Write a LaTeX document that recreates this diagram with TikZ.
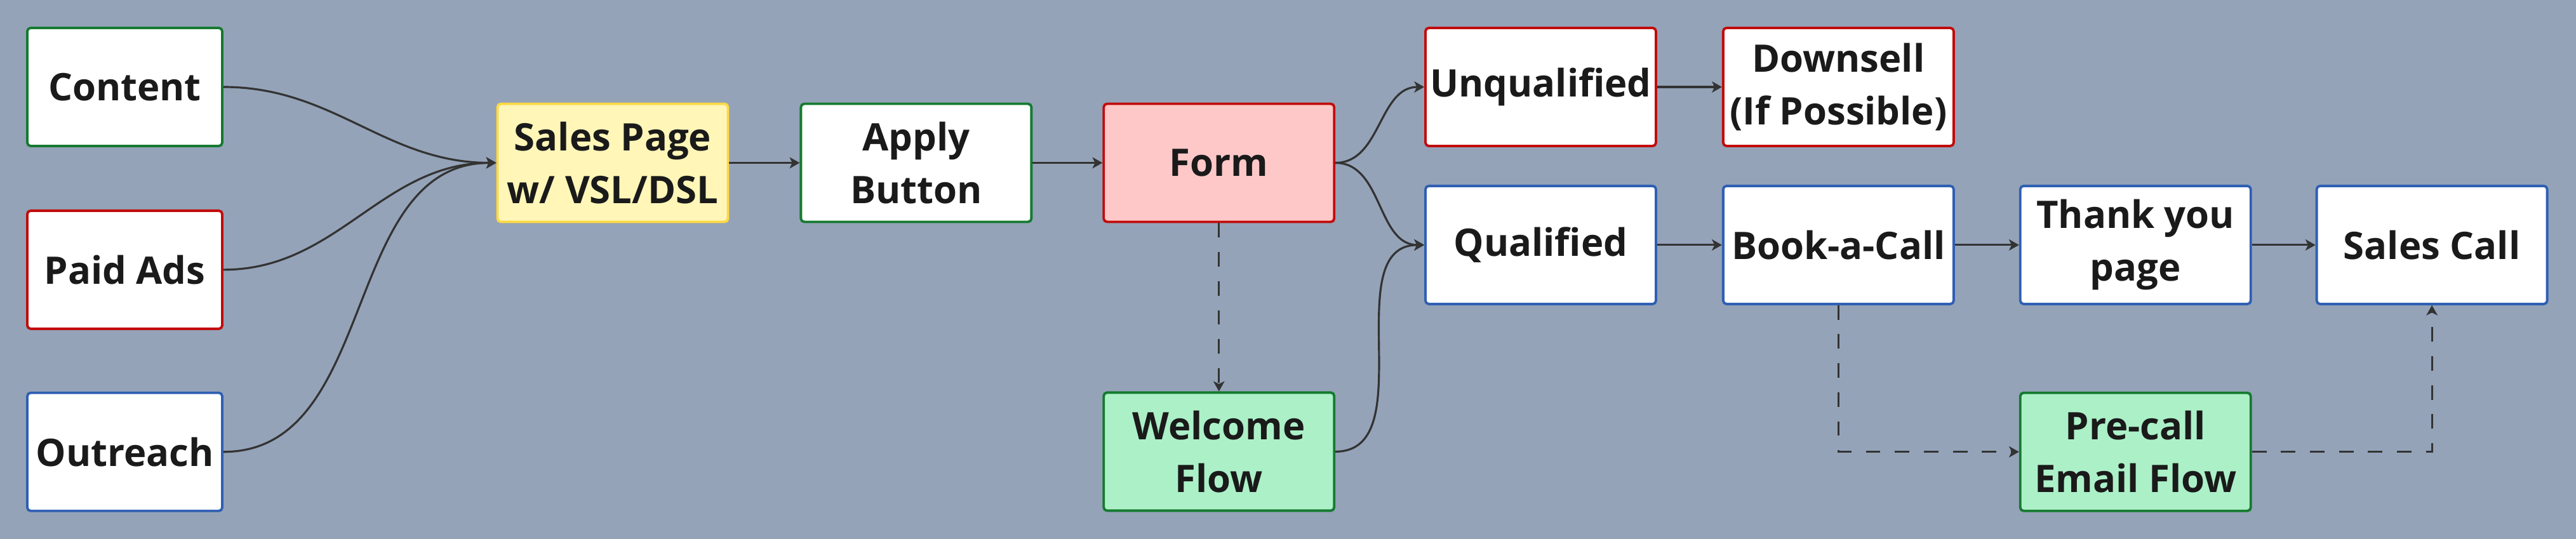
\documentclass[tikz,border=0pt]{standalone}
\usepackage{fontspec}
\setmainfont{Open Sans}
\usepackage{xcolor}
\usetikzlibrary{arrows.meta, positioning}

\definecolor{bgslate}{HTML}{94A3B8}
\definecolor{linegray}{HTML}{333333}
\definecolor{txtdark}{HTML}{1A1A1A}
\definecolor{edgegreen}{HTML}{157A2F}
\definecolor{edgered}{HTML}{C20B0B}
\definecolor{edgeblue}{HTML}{2F5FB3}
\definecolor{edgeyellow}{HTML}{FFD943}
\definecolor{fillyellow}{HTML}{FFF6B8}
\definecolor{fillpink}{HTML}{FFC8C8}
\definecolor{fillgreen}{HTML}{ACF0C8}

\begin{document}
\begin{tikzpicture}[
    font=\fontsize{17}{23.6}\selectfont\bfseries,
    stage/.style={
        draw,
        rounded corners=1.5pt,
        line width=1.1pt,
        fill=white,
        text=txtdark,
        align=center,
        inner sep=2pt,
        minimum width=3.63cm,
        minimum height=1.86cm
    },
    greenbox/.style={stage, draw=edgegreen},
    redbox/.style={stage, draw=edgered},
    bluebox/.style={stage, draw=edgeblue},
    source/.style={minimum width=3.07cm},
    flow/.style={
        draw=linegray,
        line width=0.9pt,
        -{Stealth[length=4.5pt, width=5pt, inset=1.2pt]}
    },
    dashflow/.style={
        flow,
        dash pattern=on 6.5pt off 6.5pt
    }
]

% Background
\fill[bgslate] (0,0) rectangle (40.57,-8.49);

% Traffic sources
\node[greenbox, source] (content) at (1.965,-1.37) {Content};
\node[redbox, source, below=0.98cm of content] (paidads) {Paid Ads};
\node[bluebox, source, below=0.97cm of paidads] (outreach) {Outreach};

% Funnel
\node[stage, draw=edgeyellow, fill=fillyellow] (salespage) at (9.65,-2.565) {Sales Page\\w/ VSL/DSL};
\node[greenbox, right=1.11cm of salespage] (apply) {Apply\\Button};
\node[redbox, fill=fillpink, right=1.10cm of apply] (form) {Form};
\node[greenbox, fill=fillgreen, below=2.65cm of form] (welcome) {Welcome\\Flow};

% Outcomes
\node[redbox] (unqualified) at (24.265,-1.37) {Unqualified};
\node[redbox, right=1.02cm of unqualified] (downsell) {Downsell\\(If Possible)};
\node[bluebox, below=0.59cm of unqualified] (qualified) {Qualified};
\node[bluebox, right=1.02cm of qualified] (bookcall) {Book-a-Call};
\node[bluebox, right=1.01cm of bookcall] (thanks) {Thank you\\page};
\node[bluebox, right=1.00cm of thanks] (salescall) {Sales Call};
\node[greenbox, fill=fillgreen, below=1.36cm of thanks] (precall) {Pre-call\\Email Flow};

% Sources -> Sales Page
\foreach \src in {content, paidads, outreach} {
    \draw[flow] (\src.east) to[out=0, in=180] (salespage.west);
}

% Main line
\draw[flow] (salespage) -- (apply);
\draw[flow] (apply) -- (form);
\draw[flow] (form.east) to[out=0, in=180] (unqualified.west);
\draw[flow] (form.east) to[out=0, in=180] (qualified.west);
\draw[flow] (welcome.east) to[out=0, in=180] (qualified.west);
\draw[dashflow] (form) -- (welcome);

\draw[flow] (unqualified) -- (downsell);
\foreach \a/\b in {qualified/bookcall, bookcall/thanks, thanks/salescall} {
    \draw[flow] (\a) -- (\b);
}

% Pre-call emails
\draw[dashflow] (bookcall.south) |- (precall.west);
\draw[dashflow] (precall.east) -| (salescall.south);

\end{tikzpicture}
\end{document}
